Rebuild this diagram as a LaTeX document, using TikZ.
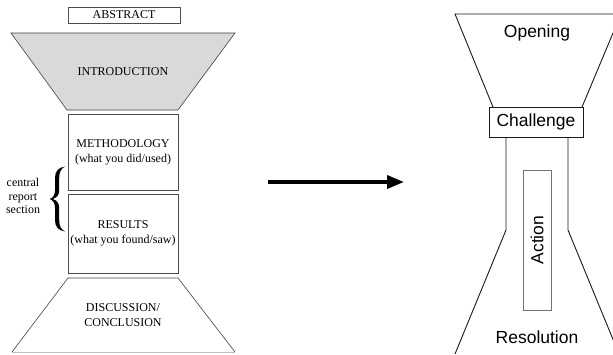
\documentclass[tikz,border=0pt]{standalone}
\usepackage{fontspec}
\setmainfont{Liberation Serif}
\newfontfamily\sansf{Liberation Sans}
\usetikzlibrary{arrows.meta}
\begin{document}
\begin{tikzpicture}[x=1pt,y=-1pt,
  lbox/.style={draw=black!70,line width=0.6pt,inner sep=0pt,align=center,font=\fontsize{12}{15}\selectfont},
  ltext/.style={inner sep=0pt,align=center,font=\fontsize{12}{15}\selectfont},
  rtext/.style={inner sep=0pt,font=\sansf\fontsize{17.5}{20}\selectfont},
  rline/.style={draw=black!90,line width=0.9pt},
  lline/.style={draw=black!75,line width=0.6pt}]
\useasboundingbox (0,0) rectangle (613,354);
\clip (0,0) rectangle (613,354);
% left funnel
\node[lbox,minimum width=112,minimum height=16] (abstract) at (124,15) {ABSTRACT};
\path[lline,fill=gray!30] (11,33) -- (235,33) -- (178,110) -- (67,110) -- cycle;
\node[ltext] (intro) at (123,72) {INTRODUCTION};
\node[lbox,minimum width=110,minimum height=76] (method) at (123,152) {METHODOLOGY\\(what you did/used)};
\node[lbox,minimum width=110,minimum height=79] (results) at (123,233.5) {RESULTS\\(what you found/saw)};
\draw[lline] (12,352) -- (68,278) -- (178,278) -- (235,352);
\draw[draw=black!25,line width=0.6pt] (12,352) -- (235,352);
\node[ltext] (disc) at (123,315.5) {DISCUSSION/\\CONCLUSION};
% brace
\fill[black] (65,166.5) .. controls (58.5,167.5) and (55,171) .. (55,178) -- (55,190)
  .. controls (55,195) and (53,198) .. (49.5,199) .. controls (53,200) and (55,203) .. (55,208)
  -- (55,220) .. controls (55,227) and (58.5,230.5) .. (65,231.5)
  .. controls (61,229.5) and (59.2,226) .. (59.2,220) -- (59.2,208)
  .. controls (59.2,204) and (57.5,200.5) .. (53,199) .. controls (57.5,197.5) and (59.2,194) .. (59.2,190)
  -- (59.2,178) .. controls (59.2,172) and (61,168.5) .. (65,166.5) -- cycle;
\node[ltext,font=\fontsize{12}{13.5}\selectfont] (central) at (23,196) {central\\report\\section};
% arrow
\coordinate (a1) at (268,182);
\coordinate (a2) at (404,182);
\draw[line width=3.5pt,-{Triangle[length=17pt,width=13pt]}] (a1) -- (a2);
% right funnel
\draw[rline] (493,107) -- (455,14) -- (621,14) -- (582,107);
\node[rtext] (opening) at (537,33) {Opening};
\node[rline,rtext,minimum width=94,minimum height=30] (challenge) at (536,122) {Challenge};
\draw[rline] (506,137) -- (506,230) -- (455,354);
\draw[rline] (568,137) -- (568,230) -- (619,354);
\node[draw=black!55,line width=0.6pt,minimum width=28,minimum height=140,inner sep=0pt] (action) at (537,240) {};
\node[rtext,rotate=90] at (action.center) {Action};
\node[rtext] (resolution) at (537,337) {Resolution};
\end{tikzpicture}
\end{document}
